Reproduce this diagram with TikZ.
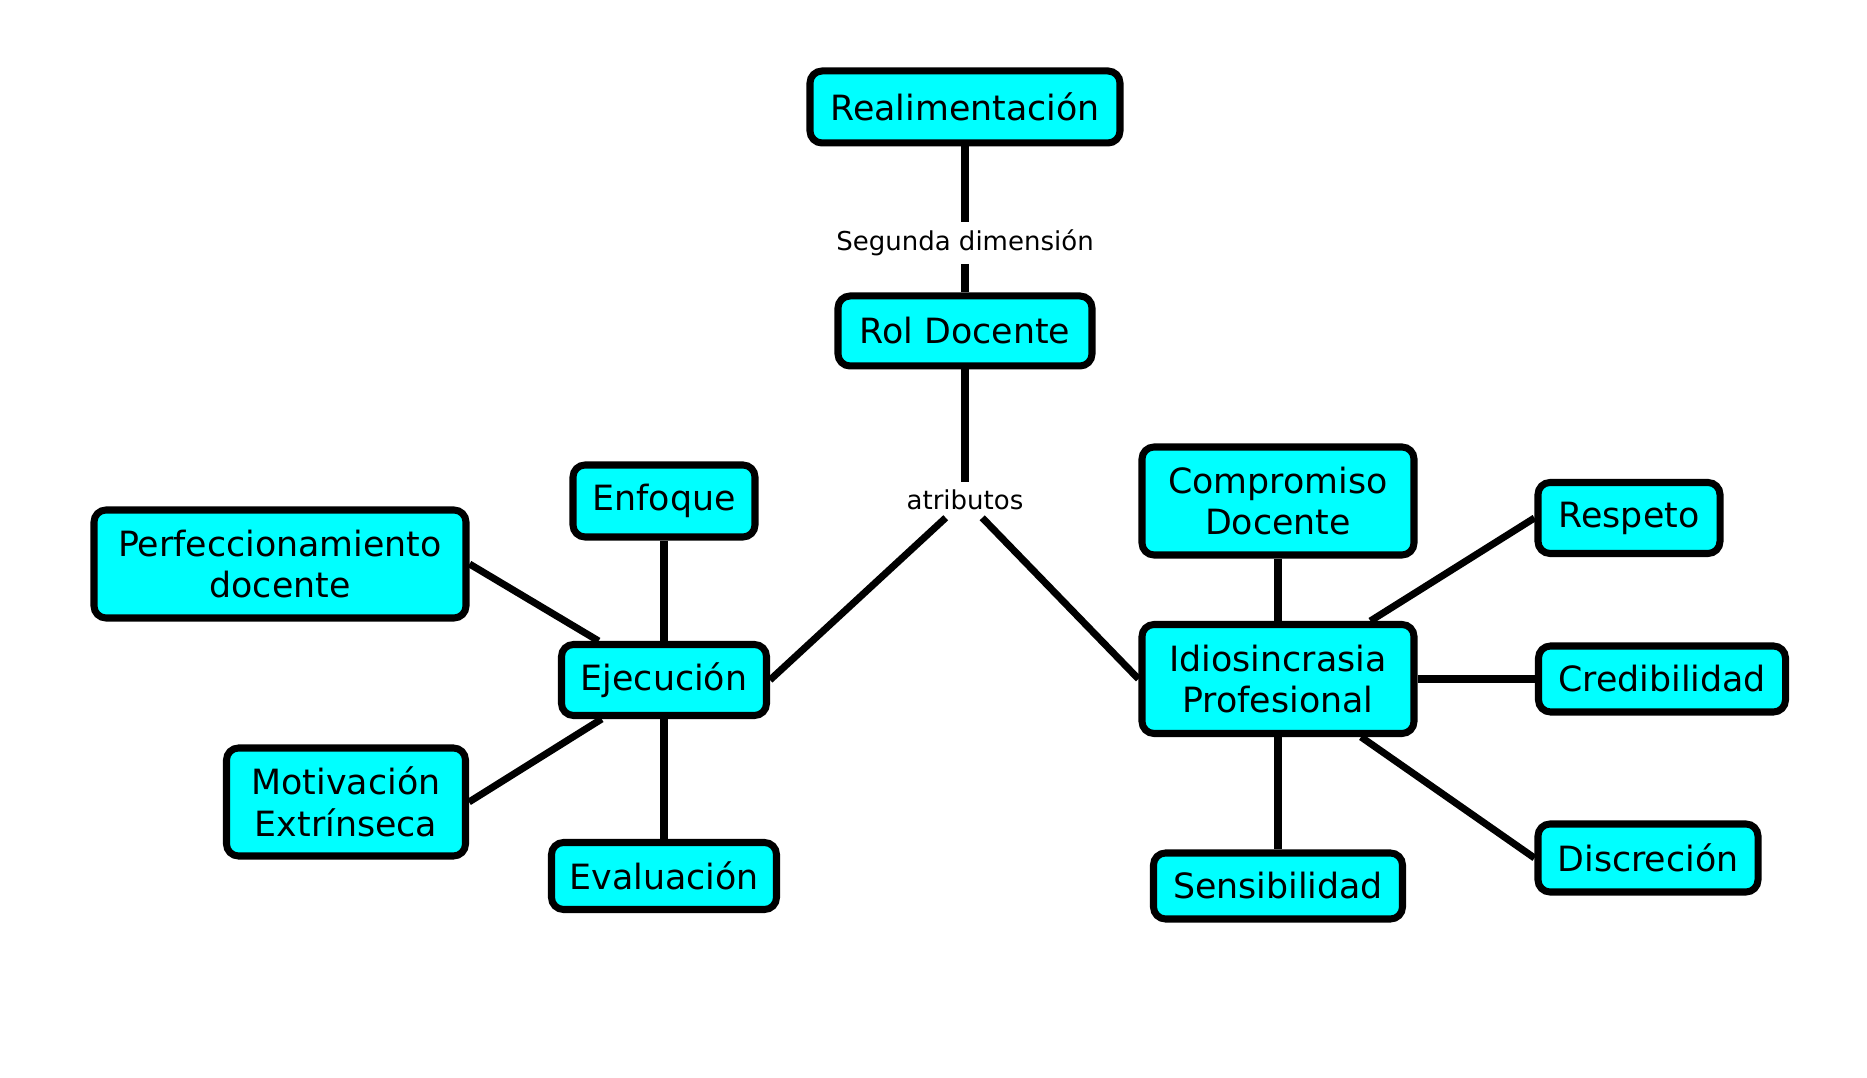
\documentclass[tikz,border=0pt]{standalone}
\usepackage{fontspec}
\setmainfont{DejaVu Sans}
\definecolor{celeste}{RGB}{0,255,255}
\tikzset{
  concepto/.style={draw=black, line width=2pt, fill=celeste, rounded corners=0.12cm,
    inner sep=0pt, minimum height=0.70cm, align=center,
    font=\fontsize{9.9}{11.9}\selectfont},
  doble/.style={concepto, minimum height=1.08cm},
  enlace/.style={fill=white, inner sep=2pt, font=\fontsize{7.4}{9}\selectfont},
  liga/.style={line width=2pt}
}
\begin{document}
\begin{tikzpicture}
\useasboundingbox (0,0) rectangle (18.67,-10.78);
% centro
\node[concepto, minimum width=3.10cm, minimum height=0.72cm] (real) at (9.65,-1.07) {Realimentación};
\node[enlace] (seg) at (9.65,-2.43) {Segunda dimensión};
\node[concepto, minimum width=2.54cm] (rol) at (9.65,-3.31) {Rol Docente};
\node[enlace] (atr) at (9.65,-5.00) {atributos};
% rama izquierda
\node[concepto, minimum width=1.82cm, minimum height=0.72cm] (enf) at (6.64,-5.01) {Enfoque};
\node[doble, minimum width=3.72cm] (perf) at (2.80,-5.64) {Perfeccionamiento\\docente};
\node[concepto, minimum width=2.05cm, minimum height=0.71cm] (ejec) at (6.64,-6.80) {Ejecución};
\node[doble, minimum width=2.39cm] (motiv) at (3.46,-8.02) {Motivación\\Extrínseca};
\node[concepto, minimum width=2.25cm, minimum height=0.67cm] (eval) at (6.64,-8.76) {Evaluación};
% rama derecha
\node[doble, minimum width=2.72cm] (comp) at (12.78,-5.01) {Compromiso\\Docente};
\node[doble, minimum width=2.72cm, minimum height=1.09cm] (idio) at (12.78,-6.79) {Idiosincrasia\\Profesional};
\node[concepto, minimum width=2.49cm, minimum height=0.66cm] (sens) at (12.78,-8.86) {Sensibilidad};
\node[concepto, minimum width=1.82cm, minimum height=0.71cm] (resp) at (16.29,-5.18) {Respeto};
\node[concepto, minimum width=2.47cm, minimum height=0.66cm] (cred) at (16.62,-6.79) {Credibilidad};
\node[concepto, minimum width=2.20cm, minimum height=0.68cm] (disc) at (16.48,-8.58) {Discreción};
% conectores
\draw[liga] (real) -- (seg) -- (rol);
\draw[liga] (rol) -- (atr);
\draw[liga] (atr) -- (ejec.east);
\draw[liga] (atr) -- (idio.west);
\draw[liga] (enf) -- (ejec);
\draw[liga] (ejec) -- (eval);
\draw[liga] (perf.east) -- (ejec);
\draw[liga] (motiv.east) -- (ejec);
\draw[liga] (comp) -- (idio);
\draw[liga] (idio) -- (sens);
\draw[liga] (idio) -- (cred);
\draw[liga] (resp.west) -- (idio);
\draw[liga] (disc.west) -- (idio);
\end{tikzpicture}
\end{document}
